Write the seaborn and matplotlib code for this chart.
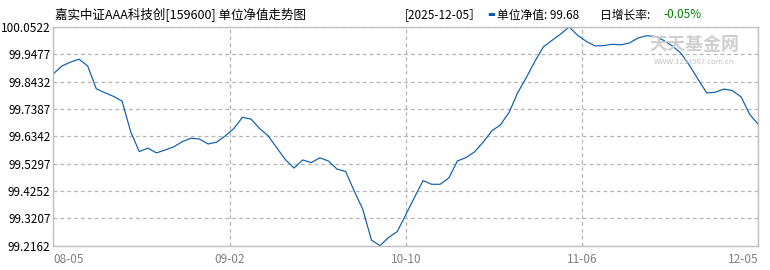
import numpy as np
import pandas as pd
import matplotlib
matplotlib.use("Agg")
import matplotlib.pyplot as plt
import seaborn as sns

# ---------------- data ----------------
nav_values = [
    99.873, 99.903, 99.918, 99.929, 99.903, 99.816, 99.801, 99.787, 99.769, 99.652,
    99.576, 99.589, 99.571, 99.582, 99.594, 99.614, 99.627, 99.624, 99.605, 99.612,
    99.636, 99.664, 99.707, 99.700, 99.664, 99.636, 99.590, 99.545, 99.513, 99.544,
    99.534, 99.552, 99.540, 99.509, 99.500, 99.425, 99.355, 99.238, 99.2162, 99.248,
    99.270, 99.335, 99.400, 99.465, 99.451, 99.451, 99.475, 99.540, 99.553, 99.575,
    99.612, 99.655, 99.678, 99.725, 99.800, 99.858, 99.920, 99.976, 100.001, 100.025,
    100.0522, 100.020, 99.997, 99.980, 99.981, 99.986, 99.984, 99.991, 100.010, 100.019,
    100.016, 100.001, 99.980, 99.952, 99.905, 99.852, 99.800, 99.803, 99.815, 99.809,
    99.785, 99.718, 99.680,
]
x_tick_labels = ["08-05", "09-02", "10-10", "11-06", "12-05"]
y_tick_values = [99.2162, 99.3207, 99.4252, 99.5297, 99.6342, 99.7387, 99.8432, 99.9477, 100.0522]

title_text = "嘉实中证AAA科技创[159600] 单位净值走势图"
date_text = "[2025-12-05］"
nav_label = "单位净值: "
nav_latest = "99.68"
growth_label = "日增长率: "
growth_value = "-0.05%"

df = pd.DataFrame({"idx": np.arange(len(nav_values)), "nav": nav_values})

# ---------------- style ----------------
sns.set_style("white")
plt.rcParams["font.family"] = ["Noto Sans CJK SC", "DejaVu Sans"]

fig = plt.figure(figsize=(7.7, 2.7), dpi=100)
W, H = 770, 270
x0, x1, y0, y1 = 53.3, 758.3, 27.0, 245.7
ax = fig.add_axes([x0 / W, 1 - y1 / H, (x1 - x0) / W, (y1 - y0) / H])

line_color = "#0b5cad"
sns.lineplot(data=df, x="idx", y="nav", ax=ax, color=line_color, linewidth=0.85)

n = len(nav_values)
ax.set_xlim(0, n - 1)
ax.set_ylim(y_tick_values[0], y_tick_values[-1])

xt = np.linspace(0, n - 1, len(x_tick_labels))
ax.set_xticks(xt)
ax.set_xticklabels(x_tick_labels, color="#808080", fontsize=8.5)
labs = ax.get_xticklabels()
labs[0].set_ha("left")
labs[-1].set_ha("right")
ax.set_yticks(y_tick_values)
ax.set_yticklabels([f"{v:.4f}" for v in y_tick_values], color="#000000", fontsize=8.5)
ax.tick_params(axis="both", length=0, pad=2)
ax.tick_params(axis="x", pad=5)

ax.grid(True, color="#b4b4b4", linestyle=(0, (3, 2.5)), linewidth=0.9)
for s in ax.spines.values():
    s.set_color("#c0c0c0")
    s.set_linewidth(1.0)
ax.set_xlabel("")
ax.set_ylabel("")

# watermark
fig.text(694 / W, 1 - 45 / H, "天天基金网", ha="center", va="center",
         fontsize=13, color="#cfcfcf", fontweight="bold")
fig.text(694 / W, 1 - 62 / H, "WWW.1234567.com.cn", ha="center", va="center",
         fontsize=5.5, color="#c4c4c4")

# header texts
ty = 1 - 15 / H
fig.text(55 / W, ty, title_text, ha="left", va="center", fontsize=9.0, color="#000000")
fig.text(405 / W, ty, date_text, ha="left", va="center", fontsize=8.5, color="#000000")
fig.text(487 / W, ty, "▬", ha="left", va="center", fontsize=6, color=line_color,
         family=["DejaVu Sans"])
fig.text(497 / W, ty, nav_label + nav_latest, ha="left", va="center", fontsize=8.5, color="#000000")
fig.text(600 / W, ty, growth_label, ha="left", va="center", fontsize=8.5, color="#000000")
fig.text(663 / W, ty, growth_value, ha="left", va="center", fontsize=8.5, color="#008000")

fig.savefig("out.png", dpi=100)
